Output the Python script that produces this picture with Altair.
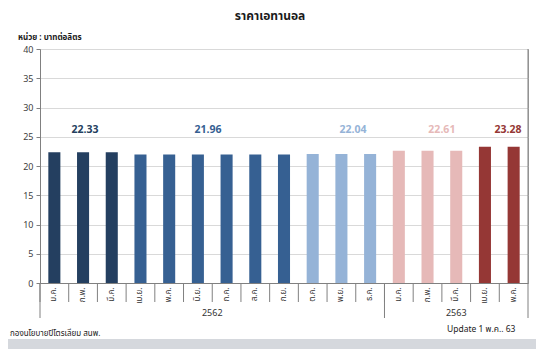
import altair as alt
import pandas as pd

# ---- data ----
years = ["2562"] * 12 + ["2563"] * 5
months = ["ม.ค.", "ก.พ.", "มี.ค.", "เม.ย.", "พ.ค.", "มิ.ย.", "ก.ค.", "ส.ค.", "ก.ย.",
          "ต.ค.", "พ.ย.", "ธ.ค.", "ม.ค.", "ก.พ.", "มี.ค.", "เม.ย.", "พ.ค."]
prices = [22.33, 22.33, 22.33, 21.96, 21.96, 21.96, 21.96, 21.96, 21.96,
          22.04, 22.04, 22.04, 22.61, 22.61, 22.61, 23.28, 23.28]
shade = ["g1", "g1", "g1", "g2", "g2", "g2", "g2", "g2", "g2",
         "g3", "g3", "g3", "g4", "g4", "g4", "g5", "g5"]
shade_names = ["g1", "g2", "g3", "g4", "g5"]
shade_colors = ["#243f60", "#366092", "#95b3d7", "#e6b9b8", "#953735"]

# value call-outs: text, month index it sits on, position within that band
label_text = ["22.33", "21.96", "22.04", "22.61", "23.28"]
label_idx = [1, 5, 10, 13, 16]
label_band = [0.57, 0.85, 0.9, 1.0, 0.3]
label_level = 26.15

group_names = ["2562", "2563"]
group_idx = [6, 14]
group_band = [0.0, 0.5]
group_start_idx = [0, 12]

FONT = "Tahoma, 'Noto Sans Thai', 'Noto Sans', sans-serif"

keys = [f"{m}|{y}" for m, y in zip(months, years)]
df = pd.DataFrame({"key": keys, "price": prices, "shade": shade})

W, H = 488, 234
xscale = alt.Scale(domain=keys, paddingInner=0, paddingOuter=0)
xaxis = alt.Axis(
    labelExpr="split(datum.label, '|')[0]", labelAngle=-90, ticks=False,
    labelFontSize=8, labelColor="#333333", labelPadding=4,
    domainColor="#808080", labelFont=FONT, title=None, grid=False,
)
yscale = alt.Scale(domain=[0, 40], nice=False)
yaxis = alt.Axis(
    values=list(range(0, 41, 5)), labelFontSize=9, labelColor="#404040",
    tickColor="#808080", domainColor="#808080", tickSize=4, labelPadding=3,
    gridColor="#d9d9d9", labelFont=FONT, title=None,
)


def X(band=0.5):
    return alt.X("key:N", sort=keys, scale=xscale, bandPosition=band, axis=xaxis, title=None)


bars = alt.Chart(df).mark_bar(width={"band": 0.42}).encode(
    x=X(0.5),
    y=alt.Y("price:Q", scale=yscale, axis=yaxis, title=None),
    color=alt.Color("shade:N", scale=alt.Scale(domain=shade_names, range=shade_colors), legend=None),
)

one = pd.DataFrame({"a": [0]})

# bottom grey strip of the frame
layers = [
    alt.Chart(one).mark_rect(color="#d5d8dd").encode(
        x=alt.value(-32), x2=alt.value(W + 8), y=alt.value(290), y2=alt.value(300)
    ),
    bars,
]

# value call-outs
for t, i, b in zip(label_text, label_idx, label_band):
    col = shade_colors[shade_names.index(shade[i])]
    d = pd.DataFrame({"key": [keys[i]], "txt": [t], "lvl": [label_level]})
    layers.append(
        alt.Chart(d).mark_text(fontSize=10.5, fontWeight="bold", color=col, font=FONT, baseline="middle").encode(
            x=X(b), y=alt.Y("lvl:Q", scale=yscale, axis=yaxis, title=None), text="txt:N"
        )
    )

# month separators below the axis
sep = pd.DataFrame({"key": keys})
layers.append(
    alt.Chart(sep).mark_rule(color="#808080", strokeWidth=1).encode(
        x=X(0.0), y=alt.value(H), y2=alt.value(H + 19)
    )
)
gsep = pd.DataFrame({"key": [keys[i] for i in group_start_idx]})
layers.append(
    alt.Chart(gsep).mark_rule(color="#808080", strokeWidth=1).encode(
        x=X(0.0), y=alt.value(H), y2=alt.value(H + 35)
    )
)
layers.append(
    alt.Chart(pd.DataFrame({"key": [keys[-1]]})).mark_rule(color="#808080", strokeWidth=1).encode(
        x=X(1.0), y=alt.value(0), y2=alt.value(H + 35)
    )
)

# year group labels
for g, i, b in zip(group_names, group_idx, group_band):
    d = pd.DataFrame({"key": [keys[i]], "txt": [g]})
    layers.append(
        alt.Chart(d).mark_text(fontSize=9, color="#333333", font=FONT, baseline="middle").encode(
            x=X(b), y=alt.value(H + 30), text="txt:N"
        )
    )

texts = [
    ("ราคาเอทานอล", 230, -33, 12, "bold", "center"),
    ("หน่วย : บาทต่อลิตร", -22, -11, 8, "bold", "left"),
    ("กองนโยบายปิโตรเลียม สนพ.", -30, 285, 8, "normal", "left"),
    ("Update 1  พ.ค.. 63", 407, 280, 8.5, "normal", "left"),
]
for t, x, y, s, w, a in texts:
    layers.append(
        alt.Chart(pd.DataFrame({"txt": [t]})).mark_text(
            fontSize=s, fontWeight=w, align=a, baseline="middle", color="#1a1a1a", font=FONT
        ).encode(x=alt.value(x), y=alt.value(y), text="txt:N")
    )

chart = alt.layer(*layers).properties(
    width=W, height=H,
    autosize=alt.AutoSizeParams(type="none"),
    padding={"left": 32, "top": 41, "right": 8, "bottom": 66},
    background="white",
).configure_view(stroke="#a6a6a6", strokeWidth=1)

chart.save("out.html", embed_options={"renderer": "svg", "actions": False})
